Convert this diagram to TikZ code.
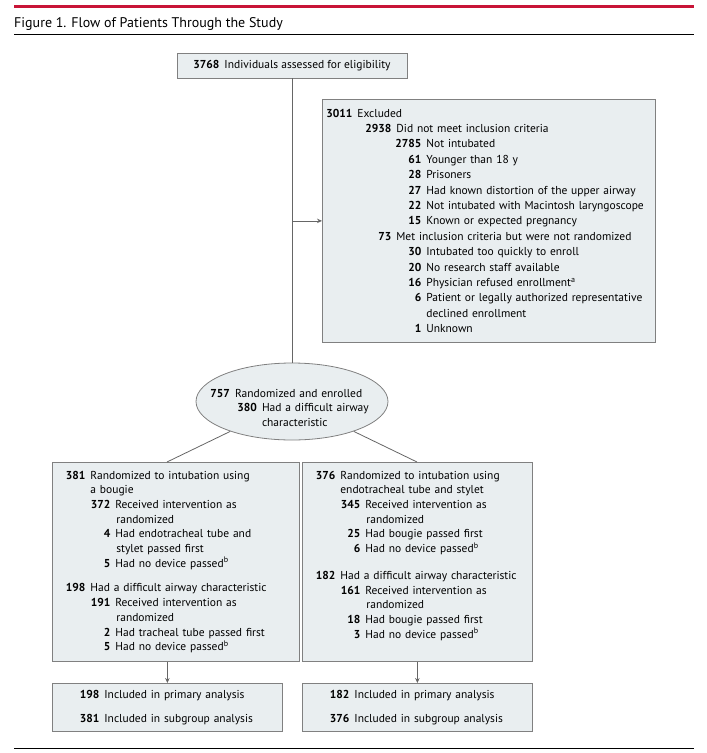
\documentclass[tikz,border=0pt]{standalone}
\usepackage{fontspec}
\setmainfont{PT Sans}
\usepackage{tikz}
\usetikzlibrary{shapes.geometric, arrows.meta, positioning, calc}
\definecolor{boxfill}{RGB}{233,238,240}
\definecolor{boxline}{RGB}{128,128,128}
\definecolor{jamared}{RGB}{200,20,55}
\tikzstyle{arrow}=[-{Stealth[length=5pt,width=4.5pt]}, line width=0.8pt, color=black!60]
\tikzstyle{link}=[line width=0.8pt, color=black!60]
\newcommand{\ent}[3]{\makebox[#1][r]{\textbf{#2}}\hspace{5pt}#3}
\newcommand{\cont}[2]{\hspace*{#1}#2}

\begin{document}
\begin{tikzpicture}[x=1pt, y=-1pt,
  flowbox/.style={rectangle, draw=boxline, fill=boxfill, line width=0.8pt,
                  align=left, anchor=north west, inner ysep=0pt,
                  font=\fontsize{11.5}{14.7}\selectfont},
  randbox/.style={ellipse, draw=boxline, fill=boxfill, line width=0.8pt,
                  align=left, inner xsep=-20pt, inner ysep=0pt,
                  minimum width=192pt, minimum height=77pt,
                  font=\fontsize{11.5}{14.5}\selectfont}
]
\useasboundingbox (0,0) rectangle (707,753);
\draw[jamared, line width=2.5pt] (14,6.5) -- (694,6.5);
\node[anchor=base west, inner sep=0pt, font=\fontsize{14}{16}\selectfont]
     (title) at (14,27) {Figure 1. Flow of Patients Through the Study};
\draw[black, line width=0.9pt] (14,34.5) -- (694,34.5);
\draw[black, line width=0.9pt] (14,748) -- (694,748);

\node[flowbox, anchor=center, align=center, minimum width=230pt, minimum height=25pt]
     (assess) at (292,65.5) {\textbf{3768}\hspace{5pt}Individuals assessed for eligibility};
\node[flowbox, text width=319pt, inner xsep=7pt, minimum height=243pt,
      font=\fontsize{11.5}{15.4}\selectfont] (excl) at (322,99)
  {\ent{23pt}{3011}{Excluded}\\
   \ent{62pt}{2938}{Did not meet inclusion criteria}\\
   \ent{92pt}{2785}{Not intubated}\\
   \ent{92pt}{61}{Younger than 18 y}\\
   \ent{92pt}{28}{Prisoners}\\
   \ent{92pt}{27}{Had known distortion of the upper airway}\\
   \ent{92pt}{22}{Not intubated with Macintosh laryngoscope}\\
   \ent{92pt}{15}{Known or expected pregnancy}\\
   \ent{62pt}{73}{Met inclusion criteria but were not randomized}\\
   \ent{92pt}{30}{Intubated too quickly to enroll}\\
   \ent{92pt}{20}{No research staff available}\\
   \ent{92pt}{16}{Physician refused enrollment\textsuperscript{a}}\\
   \ent{92pt}{6}{Patient or legally authorized representative}\\
   \cont{97pt}{declined enrollment}\\
   \ent{92pt}{1}{Unknown}};
\node[randbox, text width=162pt] (rand) at (292,401.5)
  {\rule{0pt}{21pt}\ent{19pt}{757}{Randomized and enrolled}\\
   \ent{46pt}{380}{Had a difficult airway}\\
   \cont{51pt}{characteristic}};

\node[flowbox, text width=221pt, inner xsep=13pt, minimum height=199pt] (bougie) at (52,462)
  {\ent{20pt}{381}{Randomized to intubation using}\\
   \cont{25pt}{a bougie}\\
   \ent{45pt}{372}{Received intervention as}\\
   \cont{51pt}{randomized}\\
   \ent{45pt}{4}{Had endotracheal tube and}\\
   \cont{51pt}{stylet passed first}\\
   \ent{45pt}{5}{Had no device passed\textsuperscript{b}}\\[10pt]
   \ent{20pt}{198}{Had a difficult airway characteristic}\\
   \ent{45pt}{191}{Received intervention as}\\
   \cont{51pt}{randomized}\\
   \ent{45pt}{2}{Had tracheal tube passed first}\\
   \ent{45pt}{5}{Had no device passed\textsuperscript{b}}};
\node[flowbox, text width=204pt, inner xsep=13pt, minimum height=199pt] (tube) at (302,462)
  {\ent{20pt}{376}{Randomized to intubation using}\\
   \cont{25pt}{endotracheal tube and stylet}\\
   \ent{45pt}{345}{Received intervention as}\\
   \cont{51pt}{randomized}\\
   \ent{45pt}{25}{Had bougie passed first}\\
   \ent{45pt}{6}{Had no device passed\textsuperscript{b}}\\[12pt]
   \ent{20pt}{182}{Had a difficult airway characteristic}\\
   \ent{45pt}{161}{Received intervention as}\\
   \cont{51pt}{randomized}\\
   \ent{45pt}{18}{Had bougie passed first}\\
   \ent{45pt}{3}{Had no device passed\textsuperscript{b}}\\
   \mbox{}};

\node[flowbox, text width=176pt, inner xsep=27pt, minimum height=48pt] (bres) at (52,683)
  {\ent{20pt}{198}{Included in primary analysis}\\[9.7pt]
   \ent{20pt}{381}{Included in subgroup analysis}};
\node[flowbox, text width=176pt, inner xsep=27pt, minimum height=48pt] (tres) at (302,683)
  {\ent{20pt}{182}{Included in primary analysis}\\[9.7pt]
   \ent{20pt}{376}{Included in subgroup analysis}};

\coordinate (lin) at (167,462);
\coordinate (rin) at (417,462);

\draw[link] (assess) -- (rand);
\draw[arrow] (assess.south |- excl.west) -- (excl.west);
\draw[link] (rand) -- (lin);
\draw[link] (rand) -- (rin);
\draw[arrow] (bougie.south -| bres.north) -- (bres.north);
\draw[arrow] (tube.south) -- (tres.north);
\end{tikzpicture}
\end{document}
